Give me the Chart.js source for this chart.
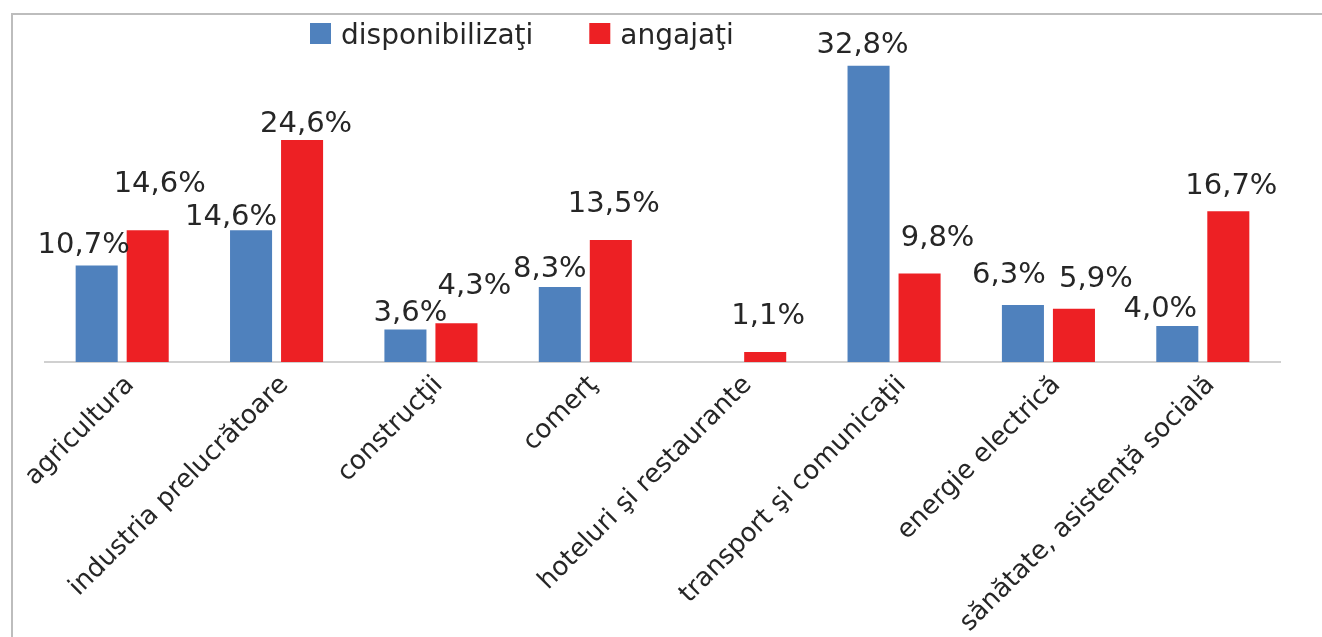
<!doctype html>
<html lang="ro">
<head>
  <meta charset="utf-8">
  <title>disponibilizaţi / angajaţi</title>
  <script src="https://cdn.jsdelivr.net/npm/chart.js"></script>
  <style>
    body { margin: 0; background: #fff; }
    #wrap { width: 1322px; height: 637px; }
  </style>
</head>
<body>
<div id="wrap"><canvas id="bar-chart" width="1322" height="637"></canvas></div>

<script>
// data (%)
var categories = [
  "agricultura",
  "industria prelucrătoare",
  "construcţii",
  "comerţ",
  "hoteluri şi restaurante",
  "transport şi comunicaţii",
  "energie electrică",
  "sănătate, asistenţă socială"
];
var disponibilizati = [10.7, 14.6, 3.6, 8.3, 0, 32.8, 6.3, 4.0];
var angajati = [14.6, 24.6, 4.3, 13.5, 1.1, 9.8, 5.9, 16.7];

// where Excel put each value label, relative to its bar: [dx, gap above bar]
var labelNudgeBlue = [[-13, 12], [-20, 5], [5, 8], [-10, 10], [0, 10], [-6, 13], [-14, 22], [-17, 9]];
var labelNudgeRed = [[12, 38], [4, 8], [18, 29], [3, 28], [3, 28], [18, 28], [22, 22], [3, 17]];

var FAMILY = '"DejaVu Sans", Verdana, sans-serif';
var TEXT = '#262626';

// frame + legend + value labels
var decor = {
  id: 'decor',
  afterDatasetsDraw: function(chart) {
    var ctx = chart.ctx;
    ctx.save();
    ctx.font = '29px ' + FAMILY;
    ctx.fillStyle = TEXT;
    ctx.textAlign = 'center';
    ctx.textBaseline = 'alphabetic';
    var nudges = [labelNudgeBlue, labelNudgeRed];
    chart.data.datasets.forEach(function(ds, di) {
      var meta = chart.getDatasetMeta(di);
      meta.data.forEach(function(bar, i) {
        var v = ds.data[i];
        if (!v) return;
        var n = nudges[di][i];
        ctx.fillText(v.toFixed(1).replace('.', ',') + '%', bar.x + n[0], bar.y - n[1]);
      });
    });
    ctx.restore();
  },
  afterDraw: function(chart) {
    var ctx = chart.ctx;
    ctx.save();
    // outer frame (left + top)
    ctx.strokeStyle = '#bdbdbd';
    ctx.lineWidth = 2;
    ctx.beginPath();
    ctx.moveTo(12, 637);
    ctx.lineTo(12, 14);
    ctx.lineTo(1322, 14);
    ctx.stroke();
    // legend
    ctx.font = '28px ' + FAMILY;
    ctx.textAlign = 'left';
    ctx.textBaseline = 'alphabetic';
    var x = 310;
    chart.data.datasets.forEach(function(ds) {
      ctx.fillStyle = ds.backgroundColor;
      ctx.fillRect(x, 23, 21, 21);
      ctx.fillStyle = TEXT;
      ctx.fillText(ds.label, x + 31, 44);
      x += 31 + ctx.measureText(ds.label).width + 56;
    });
    ctx.restore();
  }
};

new Chart(document.getElementById("bar-chart"), {
  type: 'bar',
  data: {
    labels: categories,
    datasets: [{
      label: "disponibilizaţi",
      data: disponibilizati,
      backgroundColor: "#4f81bd"
    },
    {
      label: "angajaţi",
      data: angajati,
      backgroundColor: "#ed2024"
    }]
  },
  options: {
    responsive: false,
    animation: false,
    layout: { padding: { top: 46, left: 45, right: 42, bottom: 0 } },
    datasets: { bar: { categoryPercentage: 0.661, barPercentage: 0.824 } },
    plugins: {
      legend: { display: false },
      tooltip: { enabled: false }
    },
    scales: {
      x: {
        grid: { display: false, drawTicks: false },
        border: { display: true, color: '#d0d0d0', width: 2 },
        ticks: {
          autoSkip: false,
          minRotation: 45,
          maxRotation: 45,
          padding: 8,
          labelOffset: 8,
          color: TEXT,
          font: { family: FAMILY, size: 26 }
        },
        afterFit: function(scale) { scale.height = 275; }
      },
      y: {
        display: false,
        min: 0,
        max: 35
      }
    }
  },
  plugins: [decor]
});
</script>
</body>
</html>
